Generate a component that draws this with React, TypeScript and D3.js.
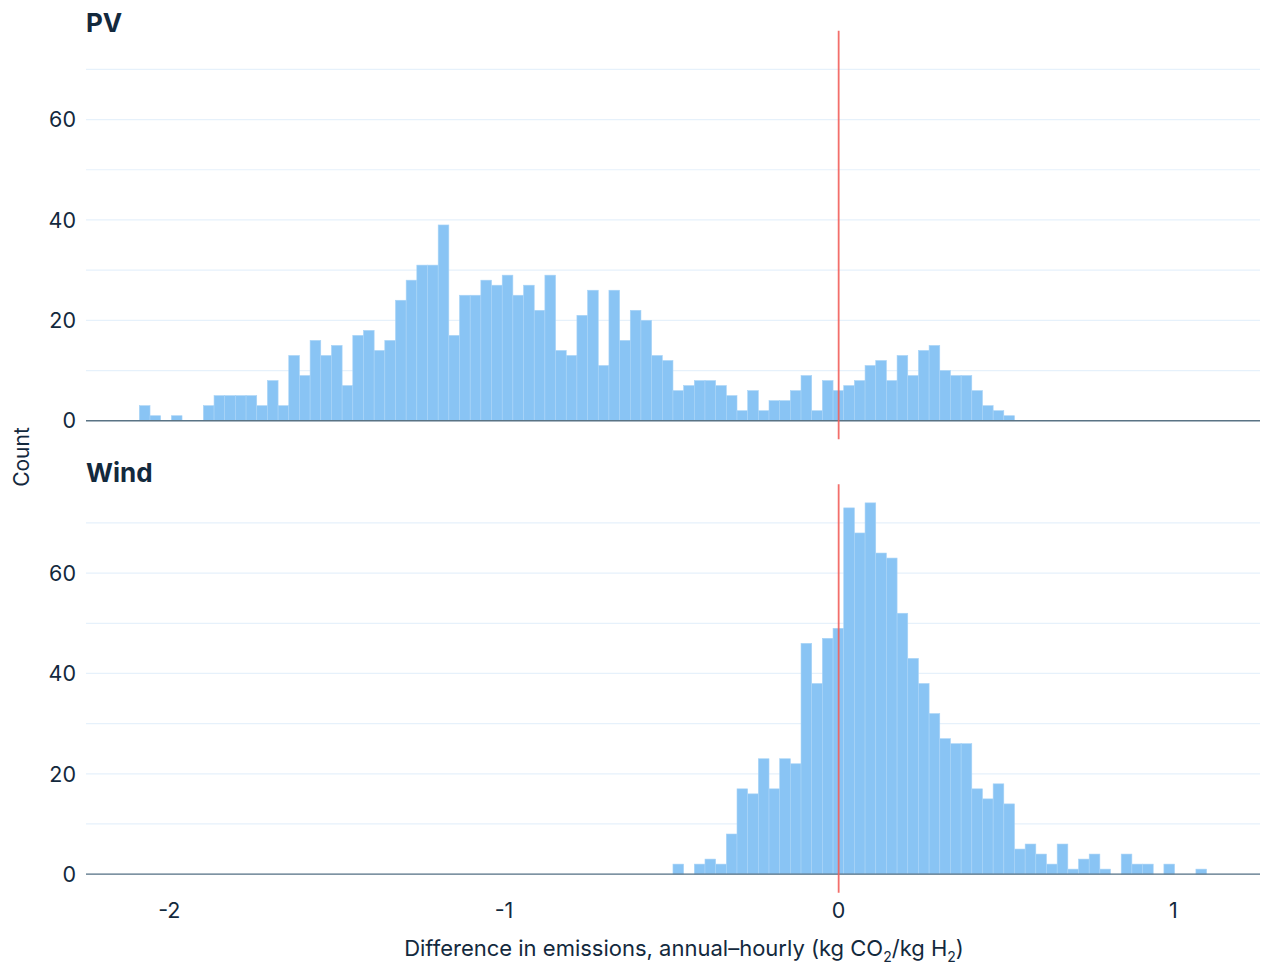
import React from "react";
import * as d3 from "d3";

// ---- Data (histogram counts, 100 shared bins) ----
const binStart = -2.0896;
const binWidth = 0.03189;

const pvCounts = [
  3, 1, 0, 1, 0, 0, 3, 5, 5, 5,
  5, 3, 8, 3, 13, 9, 16, 13, 15, 7,
  17, 18, 14, 16, 24, 28, 31, 31, 39, 17,
  25, 25, 28, 27, 29, 25, 27, 22, 29, 14,
  13, 21, 26, 11, 26, 16, 22, 20, 13, 12,
  6, 7, 8, 8, 7, 5, 2, 6, 2, 4,
  4, 6, 9, 2, 8, 6, 7, 8, 11, 12,
  8, 13, 9, 14, 15, 10, 9, 9, 6, 3,
  2, 1, 0, 0, 0, 0, 0, 0, 0, 0,
  0, 0, 0, 0, 0, 0, 0, 0, 0, 0,
];

const windCounts = [
  0, 0, 0, 0, 0, 0, 0, 0, 0, 0,
  0, 0, 0, 0, 0, 0, 0, 0, 0, 0,
  0, 0, 0, 0, 0, 0, 0, 0, 0, 0,
  0, 0, 0, 0, 0, 0, 0, 0, 0, 0,
  0, 0, 0, 0, 0, 0, 0, 0, 0, 0,
  2, 0, 2, 3, 2, 8, 17, 16, 23, 17,
  23, 22, 46, 38, 47, 49, 73, 68, 74, 64,
  63, 52, 43, 38, 32, 27, 26, 26, 17, 15,
  18, 14, 5, 6, 4, 2, 6, 1, 3, 4,
  1, 0, 4, 2, 2, 0, 2, 0, 0, 1,
];

const panelNames = ["PV", "Wind"];
const xTicks = [-2, -1, 0, 1];
const yTicks = [0, 20, 40, 60];
const yGrid = [0, 10, 20, 30, 40, 50, 60, 70];
const refLine = 0;

const TEXT = "#13293d";
const FONT = "Inter, 'Noto Sans', sans-serif";

function Panel({
  name,
  counts,
  top,
  bottom,
  titleY,
  x,
}: {
  name: string;
  counts: number[];
  top: number;
  bottom: number;
  titleY: number;
  x: d3.ScaleLinear<number, number>;
}) {
  const maxCount = 74;
  const pad = maxCount * 0.05;
  const y = d3.scaleLinear().domain([-pad, maxCount + pad]).range([bottom, top]);
  const [x0, x1] = x.range();
  return (
    <g>
      {yGrid.map((g) => (
        <line key={"g" + g} x1={x0} x2={x1} y1={y(g)} y2={y(g)} stroke="#e6f1fb" strokeWidth={1.2} />
      ))}
      {counts.map((c, i) =>
        c > 0 ? (
          <rect
            key={i}
            x={x(binStart + i * binWidth)}
            width={x(binStart + (i + 1) * binWidth) - x(binStart + i * binWidth)}
            y={y(c)}
            height={y(0) - y(c)}
            fill="#89c4f4"
            stroke="#a9d4f7"
            strokeWidth={0.6}
          />
        ) : null
      )}
      <line x1={x0} x2={x1} y1={y(0)} y2={y(0)} stroke="#5a7384" strokeWidth={1.4} />
      <line x1={x(refLine)} x2={x(refLine)} y1={top} y2={bottom} stroke="#f2605c" strokeWidth={1.8} opacity={0.9} />
      {yTicks.map((t) => (
        <text
          key={"t" + t}
          x={76}
          y={y(t)}
          dy="0.36em"
          textAnchor="end"
          fontSize={21.5}
          fill={TEXT}
          fontFamily={FONT}
        >
          {t}
        </text>
      ))}
      <text x={86} y={titleY} fontSize={26} fontWeight={700} fill={TEXT} fontFamily={FONT}>
        {name}
      </text>
    </g>
  );
}

export default function App() {
  const width = 1264;
  const height = 969;
  const x = d3.scaleLinear().domain([-2.249, 1.259]).range([86, 1260]);
  const panels = [
    { name: panelNames[0], counts: pvCounts, top: 30.7, bottom: 439.3, titleY: 31.5 },
    { name: panelNames[1], counts: windCounts, top: 484.3, bottom: 892.7, titleY: 481.5 },
  ];
  return (
    <svg
      width={width}
      height={height}
      style={{ position: "absolute", left: 0, top: 0, background: "#fff" }}
      fontFamily={FONT}
    >
      {panels.map((p) => (
        <Panel key={p.name} name={p.name} counts={p.counts} top={p.top} bottom={p.bottom} titleY={p.titleY} x={x} />
      ))}
      {xTicks.map((t) => (
        <text key={t} x={x(t)} y={918} textAnchor="middle" fontSize={21.5} fill={TEXT}>
          {t}
        </text>
      ))}
      <text x={684} y={956} textAnchor="middle" fontSize={22} fill={TEXT}>
        Difference in emissions, annual–hourly (kg CO
        <tspan fontSize={14} dy={6}>2</tspan>
        <tspan dy={-6}>/kg H</tspan>
        <tspan fontSize={14} dy={6}>2</tspan>
        <tspan dy={-6}>)</tspan>
      </text>
      <text
        transform="translate(29,457) rotate(-90)"
        textAnchor="middle"
        fontSize={21}
        fill={TEXT}
      >
        Count
      </text>
    </svg>
  );
}
